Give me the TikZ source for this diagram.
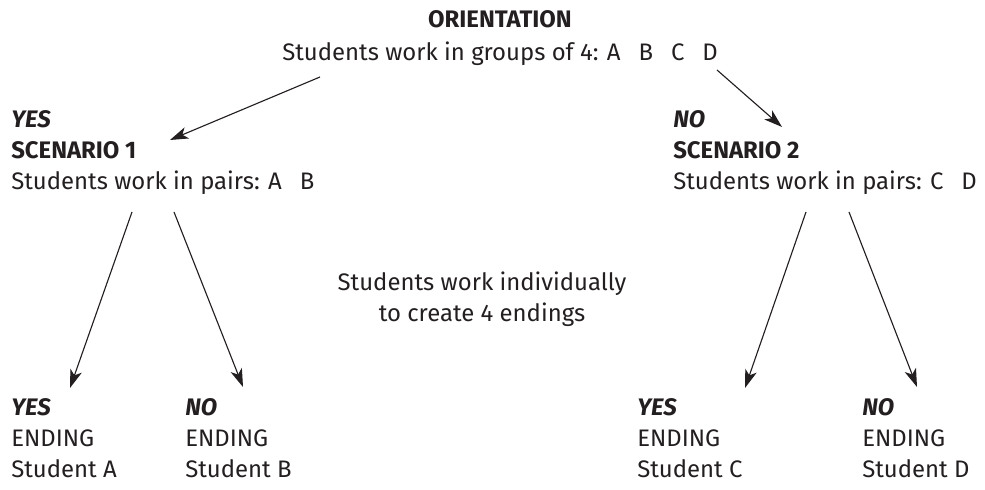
\documentclass[tikz,border=0pt]{standalone}
\usepackage{fontspec}
\setmainfont{Fira Sans}
\usepackage{tikz}
\usetikzlibrary{arrows.meta, positioning}
\definecolor{inkdark}{RGB}{35,31,32}
\newcommand{\pick}[1]{\textbf{\textit{#1}}}
\newcommand{\gap}{\hspace{0.75em}}
\tikzset{
  txt/.style={inner sep=0pt, align=left, anchor=north west,
    font=\fontsize{17}{22}\selectfont, text=inkdark},
  ctxt/.style={txt, align=center, anchor=north},
  arrow/.style={-{Stealth[length=13pt, width=8.5pt, inset=3.5pt]},
    line width=0.8pt, color=inkdark}
}

\begin{document}
\begin{tikzpicture}
  \useasboundingbox (0,0) rectangle (24.625,12.25);

  % Top of the tree
  \node[ctxt] (orient) at (12.5,12.0)
    {\textbf{ORIENTATION}\\[1.5pt]Students work in groups of 4: A\gap B\gap C\gap D};

  % The two scenarios
  \node[txt] (scen1) at (0.275,9.5)
    {\pick{YES}\\\textbf{SCENARIO 1}\\Students work in pairs: A\gap B};
  \node[txt] (scen2) at (16.825,9.5)
    {\pick{NO}\\\textbf{SCENARIO 2}\\Students work in pairs: C\gap D};

  % Middle note
  \node[ctxt] (indiv) at (12.05,5.45)
    {Students work individually\\to create 4 endings};

  % Endings
  \node[txt] (endA) at (0.275,2.3)  {\pick{YES}\\ENDING\\Student A};
  \node[txt] (endB) at (4.625,2.3)  {\pick{NO}\\ENDING\\Student B};
  \node[txt] (endC) at (15.925,2.3) {\pick{YES}\\ENDING\\Student C};
  \node[txt] (endD) at (21.55,2.3)  {\pick{NO}\\ENDING\\Student D};

  % Arrow ends
  \coordinate (orientL) at (8.0,10.325);
  \coordinate (orientR) at (17.925,10.5);
  \coordinate (scen1in) at (4.25,8.75);
  \coordinate (scen2in) at (19.55,9.075);
  \coordinate (scen1a) at (3.3,6.95);
  \coordinate (scen1b) at (4.35,6.95);
  \coordinate (scen2c) at (20.15,6.95);
  \coordinate (scen2d) at (21.225,6.95);
  \coordinate (endAin) at (1.75,2.55);
  \coordinate (endBin) at (6.075,2.575);
  \coordinate (endCin) at (18.625,2.55);
  \coordinate (endDin) at (22.925,2.575);

  % Arrows
  \draw[arrow] (orientL) -- (scen1in);
  \draw[arrow] (orientR) -- (scen2in);
  \draw[arrow] (scen1a) -- (endAin);
  \draw[arrow] (scen1b) -- (endBin);
  \draw[arrow] (scen2c) -- (endCin);
  \draw[arrow] (scen2d) -- (endDin);
\end{tikzpicture}
\end{document}
